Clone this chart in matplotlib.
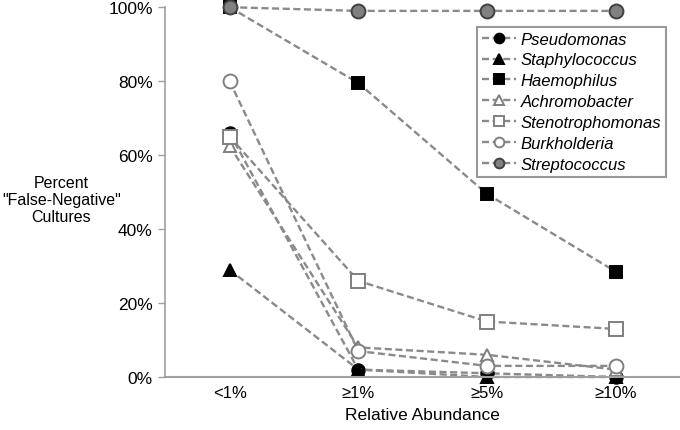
import matplotlib.pyplot as plt
import numpy as np

plt.rcParams["font.family"] = ["Liberation Sans", "DejaVu Sans"]

categories = ["<1%", "≥1%", "≥5%", "≥10%"]
pseudomonas = [66, 2, 1, 0]
staphylococcus = [29, 2, 0, 0]
haemophilus = [100, 79.5, 49.5, 28.5]
achromobacter = [62.5, 8, 6, 2]
stenotrophomonas = [65, 26, 15, 13]
burkholderia = [80, 7, 3, 3]
streptococcus = [100, 99, 99, 99]

series = [
    ("Pseudomonas", pseudomonas, "o", "black", "black", 9),
    ("Staphylococcus", staphylococcus, "^", "black", "black", 9),
    ("Haemophilus", haemophilus, "s", "black", "black", 8),
    ("Achromobacter", achromobacter, "^", "white", "#7f7f7f", 9),
    ("Stenotrophomonas", stenotrophomonas, "s", "white", "#7f7f7f", 10),
    ("Burkholderia", burkholderia, "o", "white", "#7f7f7f", 10),
    ("Streptococcus", streptococcus, "o", "#808080", "#404040", 10),
]

fig = plt.figure(figsize=(6.8, 4.31), dpi=100)
ax = fig.add_axes([0.243, 0.123, 0.757, 0.858])

x = np.arange(len(categories))
line_color = "#8a8a8a"
for name, vals, marker, face, edge, size in series:
    ax.plot(x, vals, linestyle=(0, (3, 1.5)), color=line_color, linewidth=1.7,
            marker=marker, markersize=size, markerfacecolor=face,
            markeredgecolor=edge, markeredgewidth=1.4, label=name, clip_on=False)

ax.set_xlim(-0.5, 3.5)
ax.set_ylim(0, 100)
ax.set_yticks([0, 20, 40, 60, 80, 100])
ax.set_yticklabels(["0%", "20%", "40%", "60%", "80%", "100%"], fontsize=12.5)
ax.set_xticks(x)
ax.set_xticklabels(categories, fontsize=12)
ax.tick_params(axis="x", length=0, pad=6)
ax.tick_params(axis="y", length=5, color="#a0a0a0", width=1, pad=4)

for side in ["top", "right"]:
    ax.spines[side].set_visible(False)
ax.spines["left"].set_color("#a0a0a0")
ax.spines["bottom"].set_color("#a0a0a0")
ax.spines["left"].set_linewidth(1.2)
ax.spines["bottom"].set_linewidth(1.5)

ax.set_xlabel("Relative Abundance", fontsize=12.5, labelpad=5)
fig.text(0.09, 0.535, 'Percent\n"False-Negative"\nCultures', ha="center", va="center",
         fontsize=11.5, linespacing=1.15)

leg = ax.legend(loc="upper left", bbox_to_anchor=(0.59, 0.97),
                prop={"style": "italic", "size": 12}, handlelength=2.0,
                borderpad=0.3, labelspacing=0.35, handletextpad=0.3,
                fancybox=False, edgecolor="#999999", framealpha=1)
leg.get_frame().set_linewidth(1.5)
for h in leg.legend_handles:
    h.set_markersize(7)

fig.savefig("out.png", dpi=100)
